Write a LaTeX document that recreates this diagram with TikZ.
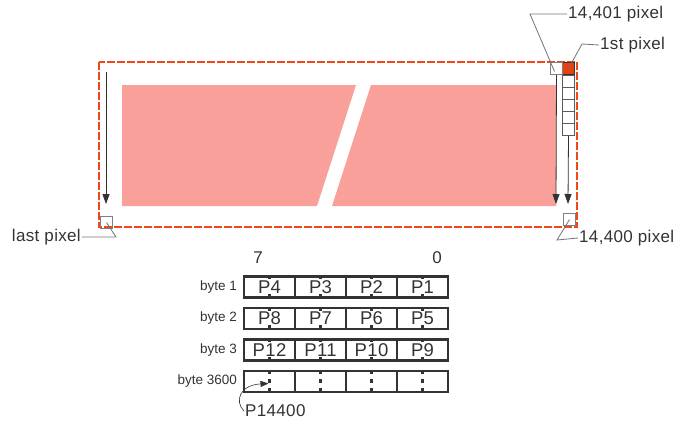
\documentclass[tikz,border=0pt]{standalone}
\usepackage{fontspec}
\setmainfont{Liberation Sans}
\newfontfamily\lblfont[LetterSpace=2]{Liberation Sans}
\usetikzlibrary{arrows.meta,calc}
\definecolor{dashred}{HTML}{F2471B}
\definecolor{pixred}{HTML}{E8400F}
\definecolor{salmon}{HTML}{F9A09B}
\definecolor{ink}{HTML}{333333}

\begin{document}
\begin{tikzpicture}[x=1pt, y=-1pt,
    pix/.style={draw=gray, line width=1pt, minimum size=12pt, inner sep=0pt, anchor=north west},
    lbl/.style={font=\lblfont\fontsize{17}{17}\selectfont, text=ink, inner sep=1pt},
    cell/.style={draw=ink, line width=2.5pt, minimum width=51pt, minimum height=21pt, inner sep=0pt},
    scan/.style={draw=ink, line width=0.8pt, -{Triangle[length=10pt,width=7pt]}},
    lead/.style={draw=gray!90!black, line width=0.8pt}]
    \useasboundingbox (0,0) rectangle (699,429);

    % the frame
    \fill[salmon] (122,85) -- (356,85) -- (317,206) -- (122,206) -- cycle;
    \fill[salmon] (371,85) -- (556,85) -- (556,206) -- (332,206) -- cycle;
    \draw[dashred, line width=2.5pt, dash pattern=on 8pt off 2pt] (99,62) rectangle (577,227);

    % pixels
    \node[pix, fill=pixred, draw=ink] (first) at (562,62) {};
    \node[pix] (p14401) at (550,62) {};
    \foreach \i in {1,...,5}
        \node[pix, draw=ink!80] (col\i) at (562,{63+12*\i}) {};
    \node[pix] (p14400) at (563,213) {};
    \node[pix] (plast) at (100,216) {};

    % scan direction
    \coordinate (lstart) at (106,72);
    \coordinate (lend) at (106,204);
    \coordinate (rend) at (556,204);
    \coordinate (cend) at (568,204);
    \draw[scan] (lstart) -- (lend);
    \draw[scan] (p14401.south) -- (rend);
    \draw[scan] (col5.south) -- (cend);

    % labels
    \node[lbl, anchor=west] (l14401) at (567,14) {14,401 pixel};
    \node[lbl, anchor=west] (l1st) at (599,45) {1st pixel};
    \node[lbl, anchor=west] (l14400) at (578,238) {14,400 pixel};
    \node[lbl, anchor=east] (llast) at (82,237) {last pixel};
    \draw[lead] (l14401.west) -- (530,14) -- ($(p14401.center)+(-2,3)$);
    \draw[lead] (l1st.west) -- (582,44) -- (first.center);
    \draw[lead] (p14400.center) -- (557,240) -- (l14400.west);
    \draw[lead] (plast.center) -- (116,237) -- (llast.east);

    % bytes
    \node[lbl] (b7) at (258,258) {7};
    \node[lbl] (b0) at (437,258) {0};
    \foreach \r/\name in {1/byte 1,2/byte 2,3/byte 3,4/byte 3600} {
        \node[font=\fontsize{13.5}{14}\selectfont, text=ink, anchor=east, inner sep=1pt] (byte\r) at (238,{287+31.5*(\r-1)}) {\name};
        \foreach \c in {1,...,4} {
            \node[cell] (c-\r-\c) at ({269.5+51*(\c-1)},{287+31.5*(\r-1)}) {};
            \draw[ink, line width=2.5pt, dash pattern=on 4pt off 5pt] (c-\r-\c.north) -- (c-\r-\c.south);
        }
    }
    \foreach \r in {1,2,3}
        \foreach \c in {1,...,4} {
            \pgfmathtruncatemacro{\p}{4*\r+1-\c}
            \node[lbl, fill=white, inner sep=0.3pt, font=\lblfont\fontsize{18.5}{18}\selectfont] at (c-\r-\c) {P\p};
        }

    % last pixel of the last byte
    \node[lbl, anchor=west] (pend) at (244,411) {P14400};
    \draw[ink, line width=0.6pt, -{Triangle[length=8pt,width=6pt]}] (pend.west) .. controls (234,401) and (240,385) .. ($(c-4-1.center)+(-1,2)$);
\end{tikzpicture}
\end{document}
